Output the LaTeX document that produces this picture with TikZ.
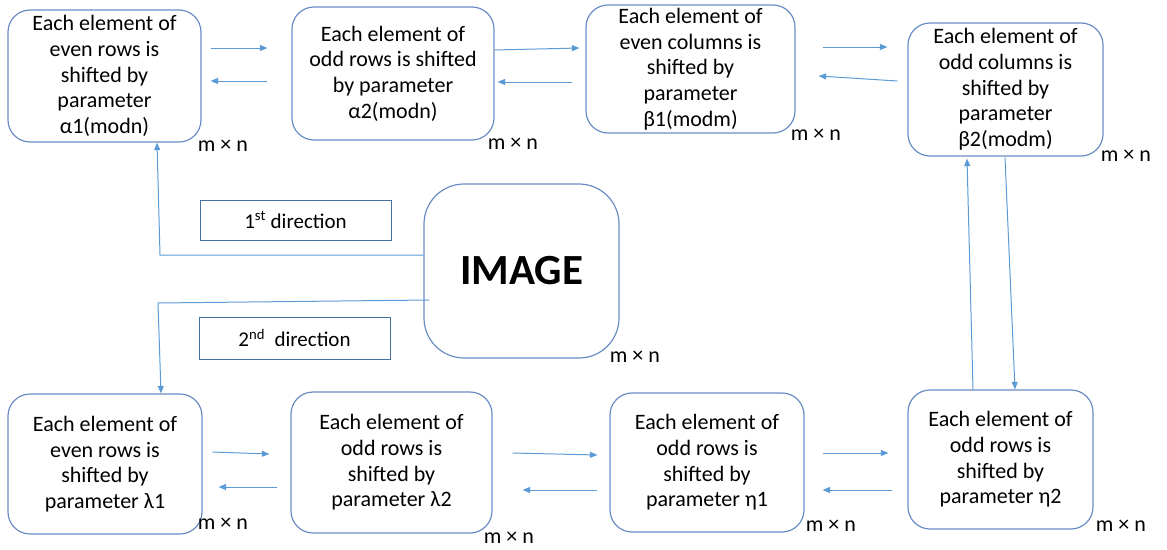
\documentclass[tikz,border=0pt]{standalone}
\usepackage{fontspec}
\setmainfont{Carlito}
\usetikzlibrary{arrows.meta}
\definecolor{boxblue}{RGB}{106,140,196}
\definecolor{arrblue}{RGB}{91,155,213}
\definecolor{dirblue}{RGB}{68,114,160}

\begin{document}
\begin{tikzpicture}[x=1pt,y=-1pt,
    stage/.style={draw=boxblue,line width=1.2pt,rounded corners=22pt,align=center,
      inner sep=0pt,font=\fontsize{22}{25.7}\selectfont},
    dirbox/.style={draw=dirblue,line width=1pt,minimum width=191pt,inner sep=0pt,
      font=\fontsize{21}{24}\selectfont},
    flow/.style={draw=arrblue,line width=1pt,-{Triangle[length=7.5pt,width=6pt]}},
    mxn/.style={anchor=west,inner sep=0pt,font=\fontsize{22}{24}\selectfont}]
    \useasboundingbox (0,0) rectangle (1167,549);

    % top row
    \node[stage,minimum width=193pt,minimum height=132pt] (a1) at (104.5,76)
      {Each element of\\even rows is\\shifted by\\parameter\\α1(modn)};
    \node[stage,minimum width=202pt,minimum height=133pt] (a2) at (393,73.5)
      {Each element of\\odd rows is shifted\\by parameter\\α2(modn)};
    \node[stage,minimum width=209pt,minimum height=128pt] (b1) at (690.5,69)
      {Each element of\\even columns is\\shifted by\\parameter\\β1(modm)};
    \node[stage,minimum width=195pt,minimum height=133pt] (b2) at (1005.5,89.5)
      {Each element of\\odd columns is\\shifted by\\parameter\\β2(modm)};

    % middle
    \node[stage,rounded corners=40pt,minimum width=195pt,minimum height=174pt,
      font=\fontsize{43}{50}\selectfont\bfseries] (img) at (521.5,271) {IMAGE};
    \node[dirbox,minimum height=40pt] (dir1) at (295.5,220) {1\textsuperscript{st} direction};
    \node[dirbox,minimum height=42pt] (dir2) at (294.5,338) {2\textsuperscript{nd}~ direction};

    % bottom row
    \node[stage,minimum width=194pt,minimum height=140pt] (l1) at (105,464)
      {Each element of\\even rows is\\shifted by\\parameter λ1};
    \node[stage,minimum width=201pt,minimum height=141pt] (l2) at (391.5,462.5)
      {Each element of\\odd rows is\\shifted by\\parameter λ2};
    \node[stage,minimum width=194pt,minimum height=139pt] (e1) at (707,462.5)
      {Each element of\\odd rows is\\shifted by\\parameter η1};
    \node[stage,minimum width=185pt,minimum height=139pt] (e2) at (1000.5,459.5)
      {Each element of\\odd rows is\\shifted by\\parameter η2};

    % sizes
    \foreach \n/\dx/\dy in {a1/-4/3,a2/-7/3,b1/-5/1,b2/-3/-1,img/-10/-2,
        l1/-5/-11,l2/-9/4,e1/1/-7,e2/2/-4}
      \node[mxn] (m\n) at ([shift={(\dx,\dy)}]\n.south east) {m × n};

    % arrows between the stages
    \draw[flow] ([shift={(9,-28)}]a1.east) -- ([shift={(-24,-25.5)}]a2.west);
    \draw[flow] ([shift={(-24,7.5)}]a2.west) -- ([shift={(9,5)}]a1.east);
    \draw[flow] ([shift={(0,-23.5)}]a2.east) -- ([shift={(-6,-21)}]b1.west);
    \draw[flow] ([shift={(-13,13)}]b1.west) -- ([shift={(3,8.5)}]a2.east);
    \draw[flow] ([shift={(27,-22)}]b1.east) -- ([shift={(-20,-42.5)}]b2.west);
    \draw[flow] ([shift={(-10,-8.5)}]b2.west) -- ([shift={(23,7)}]b1.east);

    \draw[flow] ([shift={(-27.5,0)}]e2.north) -- ([shift={(-38.5,2)}]b2.south);
    \draw[flow] ([shift={(-0.5,1)}]b2.south) -- ([shift={(14.5,0)}]e2.north);

    \draw[flow] ([shift={(10,-12)}]l1.east) -- ([shift={(-21,-8.5)}]l2.west);
    \draw[flow] ([shift={(-13,24.5)}]l2.west) -- ([shift={(16,23)}]l1.east);
    \draw[flow] ([shift={(20,-9.5)}]l2.east) -- ([shift={(-12,-7.5)}]e1.west);
    \draw[flow] ([shift={(-12,27.5)}]e1.west) -- ([shift={(30,27.5)}]l2.east);
    \draw[flow] ([shift={(18,-9.5)}]e1.east) -- ([shift={(-19,-6.5)}]e2.west);
    \draw[flow] ([shift={(-15,30.5)}]e2.west) -- ([shift={(18,27.5)}]e1.east);

    % the two directions
    \coordinate (k1) at (160,255);
    \coordinate (k2) at (158,303);
    \draw[flow] ([shift={(0,-16)}]img.west) -- (k1) -- ([shift={(52.5,0)}]a1.south);
    \draw[flow] ([shift={(6,29)}]img.west) -- (k2) -- ([shift={(56,0)}]l1.north);
\end{tikzpicture}
\end{document}
